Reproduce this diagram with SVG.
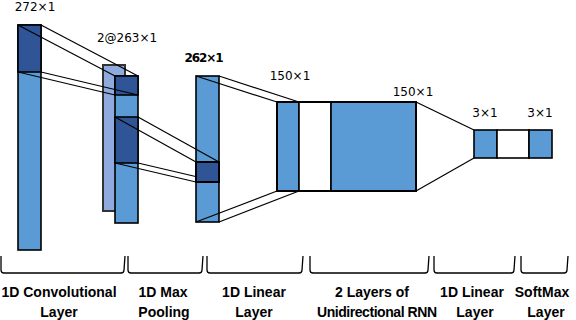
<svg xmlns="http://www.w3.org/2000/svg" width="576" height="320" viewBox="0 0 576 320">
<style>
.lb{fill:#5B9BD5;stroke:#000;stroke-width:1.6}
.db{fill:#2F5597;stroke:#000;stroke-width:1.6}
.wh{fill:#fff;stroke:#000;stroke-width:1.6}
.cn{stroke:#000;stroke-width:1.2;fill:none}
.br{stroke:#000;stroke-width:1.3;fill:none}
.dim{font-family:"DejaVu Sans",sans-serif;font-size:12px;fill:#000;text-anchor:middle}
.cap{font-family:"Liberation Sans",Arial,sans-serif;font-size:14px;font-weight:bold;fill:#000;text-anchor:middle}
</style>
<rect width="576" height="320" fill="#fff"/>
<g id="conv">
<rect class="lb" x="18" y="25" width="23" height="225"/>
<rect class="db" x="18" y="25" width="23" height="47"/>
<text class="dim" x="35" y="11">272×1</text>
</g>
<g id="pool">
<rect x="103" y="65" width="22" height="146" fill="#8FAADC" stroke="#333" stroke-width="2"/>
<rect class="lb" x="115" y="76" width="23" height="147"/>
<rect class="db" x="115" y="76" width="23" height="19"/>
<rect class="db" x="115" y="117" width="23" height="46"/>
<text class="dim" x="127" y="42">2@263×1</text>
</g>
<g id="linear1">
<rect class="lb" x="196" y="76" width="23" height="146"/>
<text class="dim" x="204" y="62" font-weight="bold" font-size="11.5" textLength="39">262×1</text>
</g>
<g id="rnn">
<rect class="lb" x="277" y="102" width="22" height="89"/>
<rect class="wh" x="299" y="102" width="32" height="89"/>
<rect class="lb" x="331" y="102" width="85" height="89"/>
<rect x="277" y="102" width="139" height="89" fill="none" stroke="#000" stroke-width="2"/>
<text class="dim" x="290" y="80">150×1</text>
<text class="dim" x="413" y="96">150×1</text>
</g>
<g id="linear2">
<rect class="lb" x="474" y="130" width="23" height="28"/>
<rect class="wh" x="497" y="130" width="32" height="28"/>
<text class="dim" x="485" y="117">3×1</text>
</g>
<g id="softmax">
<rect class="lb" x="529" y="130" width="23" height="28"/>
<text class="dim" x="540" y="117">3×1</text>
</g>
<g id="connectors">
<line class="cn" x1="41" y1="25" x2="138" y2="76"/>
<line class="cn" x1="18" y1="25" x2="115" y2="76"/>
<line class="cn" x1="41" y1="72" x2="138" y2="95"/>
<line class="cn" x1="18" y1="72" x2="115" y2="95"/>
<line class="cn" x1="138" y1="117" x2="219" y2="162"/>
<line class="cn" x1="115" y1="117" x2="196" y2="162"/>
<line class="cn" x1="138" y1="163" x2="219" y2="182"/>
<line class="cn" x1="115" y1="163" x2="196" y2="182"/>
<line class="cn" x1="196" y1="76" x2="277" y2="102"/>
<line class="cn" x1="219" y1="76" x2="299" y2="102"/>
<line class="cn" x1="196" y1="222" x2="277" y2="191"/>
<line class="cn" x1="219" y1="222" x2="299" y2="191"/>
<line class="cn" x1="416" y1="102" x2="474" y2="130"/>
<line class="cn" x1="416" y1="191" x2="474" y2="158"/>
</g>
<g id="linear1-kernel">
<rect x="196" y="162" width="23" height="20" fill="#2F5597" stroke="#000" stroke-width="2"/>
</g>
<g id="braces">
<path class="br" d="M1,256 L1,270 Q1,273 4,273 L121,273 Q124,273 124,270 L125,256"/>
<path class="br" d="M128,256 L128,270 Q128,273 131,273 L199,273 Q202,273 202,270 L203,256"/>
<path class="br" d="M207,256 L207,270 Q207,273 210,273 L299,273 Q302,273 302,270 L303,256"/>
<path class="br" d="M310,256 L310,270 Q310,273 313,273 L425,273 Q428,273 428,270 L429,256"/>
<path class="br" d="M434,256 L434,270 Q434,273 437,273 L511,273 Q514,273 514,270 L515,256"/>
<path class="br" d="M521,256 L521,270 Q521,273 524,273 L564,273 Q567,273 567,270 L568,256"/>
</g>
<g id="captions">
<text class="cap" x="59" y="297">1D Convolutional</text>
<text class="cap" x="59" y="317">Layer</text>
<text class="cap" x="163" y="297">1D Max</text>
<text class="cap" x="164" y="317">Pooling</text>
<text class="cap" x="254" y="297">1D Linear</text>
<text class="cap" x="254" y="317">Layer</text>
<text class="cap" x="372" y="297">2 Layers of</text>
<text class="cap" x="377" y="317" textLength="120">Unidirectional RNN</text>
<text class="cap" x="472" y="297">1D Linear</text>
<text class="cap" x="475" y="317">Layer</text>
<text class="cap" x="542" y="297">SoftMax</text>
<text class="cap" x="546" y="317">Layer</text>
</g>
</svg>
